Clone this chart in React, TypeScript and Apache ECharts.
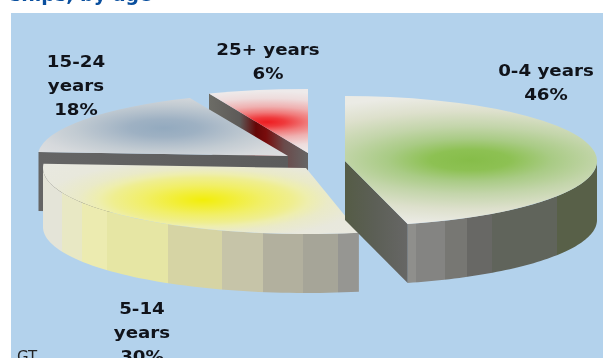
import React, { useEffect, useRef } from "react";
import * as echarts from "echarts";

const titleText = "ships, by age";
const sourceText = "GT";
const categories = ["0-4 years", "5-14\nyears", "15-24\nyears", "25+ years"];
const shares = [46, 30, 18, 6];

const BG = "#b3d2ec";
const DEPTH = 59;

type Stop = [number, string];
const hard = (bands: Stop[], end: number): Stop[] => {
  const out: Stop[] = [];
  bands.forEach((b, i) => {
    const next = i + 1 < bands.length ? bands[i + 1][0] : end;
    out.push([b[0], b[1]], [next, b[1]]);
  });
  return out;
};

const slices = [
  {
    cx: 345, cy: 161, rx: 252, ry: 65, z: 4, trim: [0, 0], label: [546, 70],
    glow: [470, 160],
    glowStops: [[0, "#86bd49"], [40, "#8dc153"], [82, "#a9cb85"], [130, "#c3d5aa"], [190, "#dde0cc"], [250, "#ebebe5"]] as Stop[],
    wall: hard([[409, "#8f8f8c"], [416, "#848482"], [445, "#777773"], [467, "#686865"], [492, "#60645b"], [557, "#586048"]], 600),
    side: [[345, "#555c46"], [375, "#5c5f56"], [409, "#676766"]] as Stop[],
  },
  {
    cx: 306, cy: 168, rx: 263, ry: 66, z: 3, trim: [2.8, 0], label: [142, 308],
    glow: [203, 200],
    glowStops: [[0, "#f2ee0a"], [25, "#f2ee30"], [60, "#f1ef68"], [90, "#efee90"], [105, "#eeeeae"], [125, "#eaeac8"], [160, "#e8e8dc"], [260, "#e9e9e4"]] as Stop[],
    wall: hard([[43, "#e4e4d8"], [62, "#e8e8c4"], [82, "#ecebb0"], [107, "#e6e6a4"], [168, "#d6d4a4"], [222, "#c6c4a8"], [263, "#b2b09e"], [303, "#a6a598"], [338, "#969692"]], 362),
    side: [[300, "#666666"], [360, "#666666"]] as Stop[],
  },
  {
    cx: 288, cy: 156, rx: 250, ry: 63, z: 2, trim: [0, 1.5], label: [76, 61],
    glow: [164, 128],
    glowStops: [[0, "#93aabf"], [35, "#9eb1c3"], [60, "#afbdca"], [90, "#c2cbd2"], [130, "#d6d9dc"], [200, "#e6e6e6"]] as Stop[],
    wall: hard([[38, "#5e5e5e"]], 43),
    side: [[38, "#656565"], [290, "#5c5c5c"]] as Stop[],
  },
  {
    cx: 308, cy: 153, rx: 269, ry: 64, z: 1, trim: [0, 0], label: [268, 49],
    glow: [267, 122],
    glowStops: [[0, "#ee1c20"], [18, "#ef3a3c"], [40, "#f07a7a"], [65, "#efb0b0"], [100, "#eedcdc"], [130, "#eeeaea"]] as Stop[],
    wall: hard([[209, "#5e5e5e"]], 212),
    side: [[209, "#6c6c66"], [240, "#5d5a58"], [256, "#640606"], [266, "#780c0c"], [284, "#6a4a4a"], [308, "#666666"]] as Stop[],
  },
];

const pct = (i: number) => shares.slice(0, i).reduce((a, b) => a + b, 0);
const deg = (d: number) => (d * Math.PI) / 180;

const xGrad = (stops: Stop[]) => {
  const x0 = stops[0][0];
  const x1 = stops[stops.length - 1][0];
  return new echarts.graphic.LinearGradient(
    x0, 0, x1, 0,
    stops.map(([p, c]) => ({ offset: (p - x0) / (x1 - x0 || 1), color: c })),
    true
  );
};

function renderSlice(params: any, api: any) {
  const i = params.dataIndex;
  const s = slices[i];
  const start = (pct(i) * 3.6) + s.trim[0];
  const end = ((pct(i) + api.value(0)) * 3.6) - s.trim[1];
  const pt = (t: number, dy = 0) => [
    s.cx + s.rx * Math.sin(deg(t)),
    s.cy - s.ry * Math.cos(deg(t)) + dy,
  ];
  const children: any[] = [];

  // outer curved wall
  const a = Math.max(start, 90);
  const b = Math.min(end, 270);
  if (b > a) {
    const top: number[][] = [];
    const bot: number[][] = [];
    for (let k = 0; k <= 60; k++) {
      const t = a + ((b - a) * k) / 60;
      top.push(pt(t));
      bot.push(pt(t, DEPTH));
    }
    children.push({
      type: "polygon",
      z2: s.z,
      shape: { points: top.concat(bot.reverse()) },
      style: { fill: xGrad(s.wall) },
    });
  }

  // flat cut wall facing the viewer
  const cut = end > 90 && end < 270 ? end : start > 270 ? start : null;
  if (cut !== null) {
    const p = pt(cut);
    children.push({
      type: "polygon",
      z2: s.z,
      shape: {
        points: [[s.cx, s.cy], p, [p[0], p[1] + DEPTH], [s.cx, s.cy + DEPTH]],
      },
      style: { fill: xGrad(s.side) },
    });
  }

  // top surface: a sector squashed into an ellipse
  const k = s.ry / s.rx;
  const maxR = s.glowStops[s.glowStops.length - 1][0];
  children.push({
    type: "sector",
    z2: s.z + 0.5,
    x: s.cx,
    y: s.cy,
    scaleY: k,
    shape: {
      cx: 0, cy: 0, r0: 0, r: s.rx,
      startAngle: deg(start - 90),
      endAngle: deg(end - 90),
      clockwise: true,
    },
    style: {
      fill: new echarts.graphic.RadialGradient(
        s.glow[0] - s.cx,
        (s.glow[1] - s.cy) / k,
        maxR,
        s.glowStops.map(([p, c]) => ({ offset: p / maxR, color: c })),
        true
      ),
    },
  });

  // label
  children.push({
    type: "text",
    z2: 10,
    x: s.label[0],
    y: s.label[1] - 12,
    scaleX: 1.14,
    style: {
      text: `${categories[i]}\n${api.value(0)}%`,
      font: "bold 16px 'DejaVu Sans'",
      fill: "#10131a",
      align: "center",
      verticalAlign: "top",
      lineHeight: 24,
    },
  });

  return { type: "group", children };
}

export default function App() {
  const ref = useRef<HTMLDivElement>(null);
  useEffect(() => {
    document.body.style.margin = "0";
    document.body.style.background = "#ffffff";
    const chart = echarts.init(ref.current!, null, { renderer: "svg" });
    chart.setOption({
      animation: false,
      backgroundColor: "#ffffff",
      title: {
        text: titleText,
        left: 10,
        top: -16,
        padding: 0,
        textStyle: { color: "#0a4f9e", fontFamily: "DejaVu Sans", fontWeight: "bold", fontSize: 19 },
      },
      graphic: [
        {
          type: "rect",
          z: -1,
          shape: { x: 11, y: 13, width: 592, height: 345 },
          style: { fill: BG },
        },
        {
          type: "text",
          z: 5,
          x: 17,
          y: 349,
          style: { text: sourceText, font: "15px 'DejaVu Sans'", fill: "#222222" },
        },
      ],
      series: [
        {
          type: "custom",
          coordinateSystem: "none",
          renderItem: renderSlice,
          data: shares.map((v) => [v]),
          silent: true,
        },
      ],
    });
    return () => chart.dispose();
  }, []);
  return <div ref={ref} style={{ width: 603, height: 358, overflow: "hidden", filter: "blur(0.4px)" }} />;
}
